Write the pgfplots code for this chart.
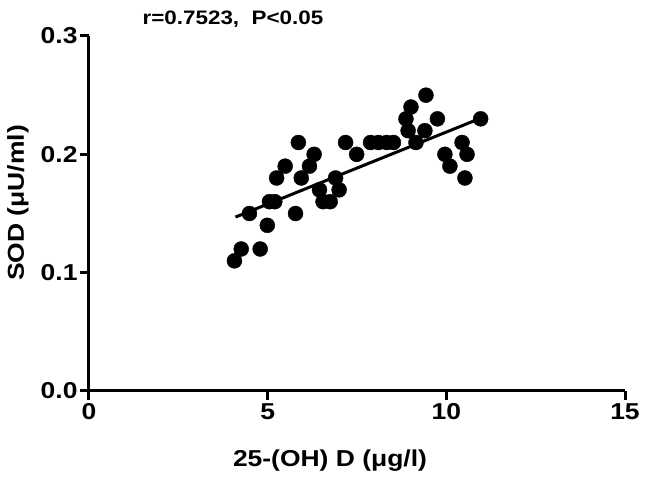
\documentclass[border=0pt]{standalone}
\usepackage{fontspec}
\setmainfont{Liberation Sans}[FakeStretch=1.15]
\usepackage{pgfplots}
\pgfplotsset{compat=1.18}
\begin{document}
\begin{tikzpicture}
\begin{axis}[
  at={(0,0)}, anchor=south west,
  scale only axis, width=536pt, height=355pt,
  xmin=0, xmax=15, ymin=0, ymax=0.3,
  axis x line*=bottom, axis y line*=left,
  axis line style={line width=3pt, -},
  xtick={0,5,10,15}, ytick={0,0.1,0.2,0.3},
  tick align=outside, major tick length=9pt,
  tick style={line width=3pt, black},
  yticklabel style={/pgf/number format/fixed, /pgf/number format/fixed zerofill, /pgf/number format/precision=1, xshift=1pt},
  /pgf/number format/assume math mode=true,
  ticklabel style={font=\fontsize{23}{27}\selectfont\bfseries},
  clip=false,
]
\addplot[only marks, mark=*, mark size=7.5pt, black] coordinates {
(4.07,0.11) (4.26,0.12) (4.79,0.12) (4.99,0.14) (4.49,0.15) (5.78,0.15)
(5.05,0.16) (5.20,0.16) (5.25,0.18) (5.49,0.19) (5.86,0.21) (5.94,0.18)
(6.17,0.19) (6.30,0.20) (6.45,0.17) (6.55,0.16) (6.75,0.16) (6.90,0.18)
(7.00,0.17) (7.18,0.21) (7.49,0.20) (7.88,0.21) (8.10,0.21) (8.33,0.21)
(8.52,0.21) (8.87,0.23) (8.93,0.22) (9.01,0.24) (9.15,0.21) (9.40,0.22)
(9.43,0.25) (9.75,0.23) (9.96,0.20) (10.10,0.19) (10.44,0.21) (10.58,0.20)
(10.52,0.18) (10.96,0.23)
};
\addplot[line width=3pt, black, no marks] coordinates {(4.1,0.147) (11.0,0.231)};
\node[anchor=base, font=\fontsize{19.5}{23}\selectfont\bfseries] at (axis cs:4.03,0.3) [yshift=11pt] {r=0.7523,\ \ P<0.05};
\end{axis}
\node[anchor=base, font=\fontsize{23}{27}\selectfont\bfseries] at (241pt,-76pt) {25-(OH) D (μg/l)};
\node[rotate=90, anchor=center, font=\fontsize{23}{27}\selectfont\bfseries] at (-71pt,188pt) {SOD (μU/ml)};
\pgfresetboundingbox
\path (-89pt,-90pt) rectangle (557pt,391pt);
\end{tikzpicture}
\end{document}
